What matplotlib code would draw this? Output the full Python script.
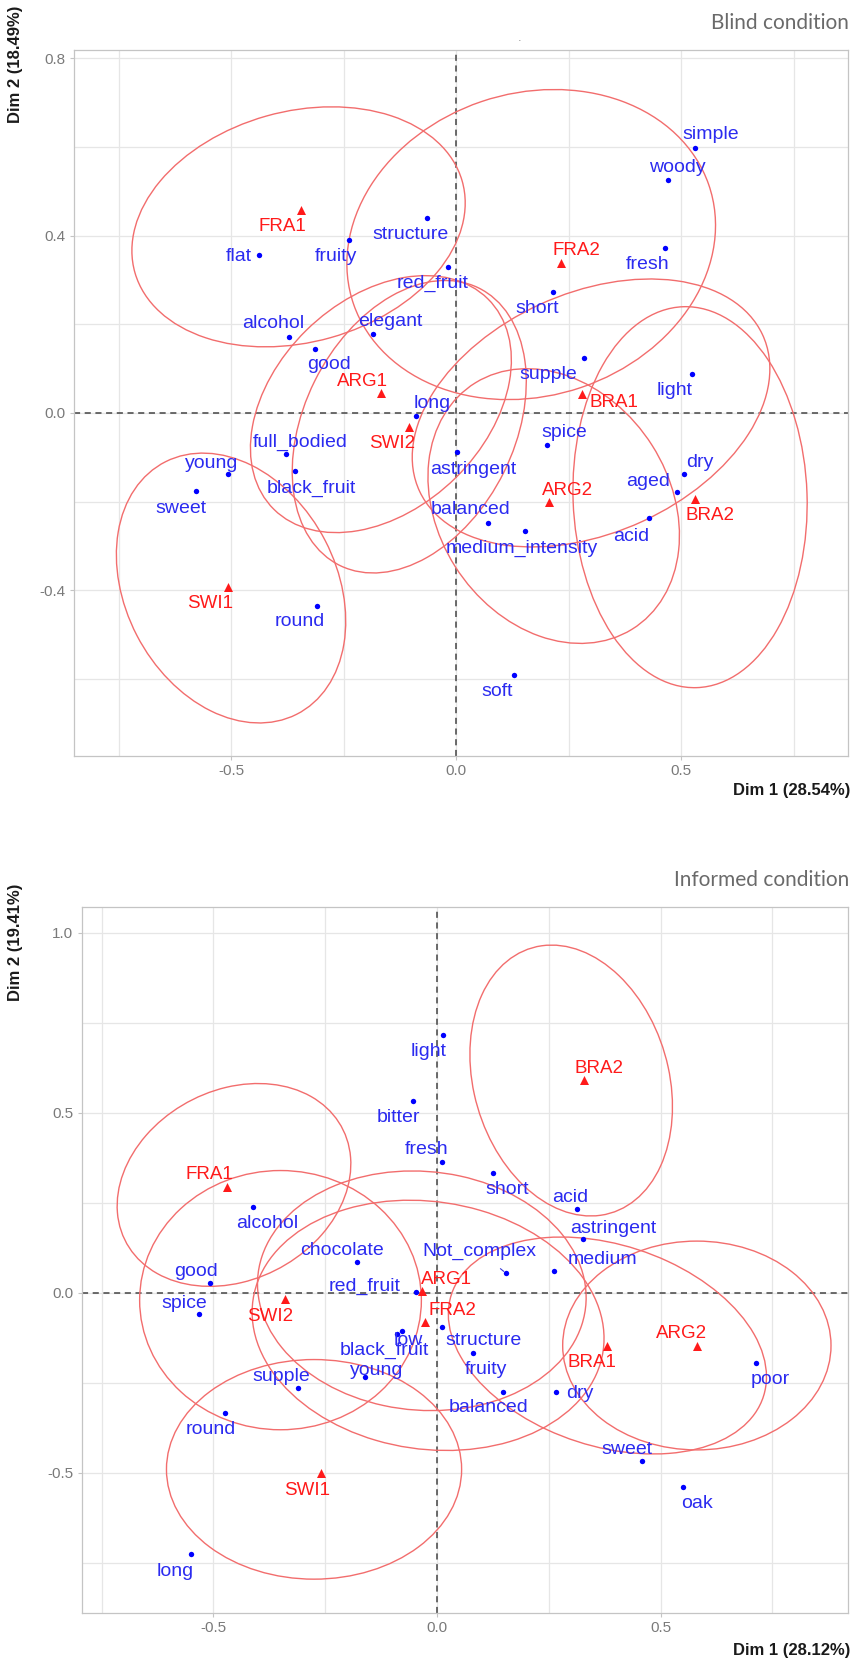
import matplotlib
matplotlib.use('Agg')
import matplotlib.pyplot as plt
from matplotlib.patches import Ellipse
from matplotlib.ticker import FixedLocator

# ---- Blind condition ----
blind_attr = ['simple', 'woody', 'fresh', 'short', 'supple', 'light', 'structure', 'red_fruit',
              'flat', 'fruity', 'alcohol', 'good', 'elegant', 'long', 'young', 'sweet',
              'full_bodied', 'black_fruit', 'round', 'spice', 'astringent', 'balanced',
              'medium_intensity', 'dry', 'aged', 'acid', 'soft']
blind_attr_x = [0.531, 0.470, 0.465, 0.215, 0.284, 0.524, -0.064, -0.018,
                -0.438, -0.238, -0.371, -0.313, -0.184, -0.088, -0.507, -0.578,
                -0.378, -0.358, -0.310, 0.203, 0.002, 0.072,
                0.153, 0.507, 0.492, 0.429, 0.129]
blind_attr_y = [0.598, 0.526, 0.372, 0.273, 0.124, 0.088, 0.440, 0.330,
                0.357, 0.391, 0.172, 0.145, 0.178, -0.006, -0.138, -0.176,
                -0.093, -0.130, -0.435, -0.072, -0.088, -0.248,
                -0.266, -0.138, -0.178, -0.238, -0.591]
blind_prod = ['FRA1', 'FRA2', 'ARG1', 'ARG2', 'BRA1', 'BRA2', 'SWI1', 'SWI2']
blind_prod_x = [-0.344, 0.233, -0.167, 0.207, 0.279, 0.530, -0.507, -0.104]
blind_prod_y = [0.458, 0.338, 0.045, -0.202, 0.043, -0.193, -0.392, -0.031]
# confidence ellipses: centre, semi axes, angle (deg)
blind_ell_x = [-0.350, 0.167, -0.167, 0.217, 0.300, 0.520, -0.500, -0.104]
blind_ell_y = [0.420, 0.380, 0.020, -0.210, 0.000, -0.190, -0.395, -0.031]
blind_ell_a = [0.378, 0.417, 0.336, 0.328, 0.420, 0.430, 0.320, 0.349]
blind_ell_b = [0.260, 0.341, 0.235, 0.258, 0.270, 0.260, 0.235, 0.234]
blind_ell_ang = [16, 19, 45, 122, 25, 92, 117, 64]

# ---- Informed condition ----
inf_attr = ['light', 'bitter', 'fresh', 'alcohol', 'chocolate', 'good', 'red_fruit',
            'short', 'acid', 'astringent', 'Not_complex', 'medium', 'spice', 'low',
            'black_fruit', 'structure', 'young', 'supple', 'round', 'fruity', 'balanced',
            'dry', 'poor', 'sweet', 'oak', 'long']
inf_attr_x = [0.014, -0.053, 0.012, -0.412, -0.180, -0.508, -0.047,
              0.126, 0.312, 0.327, 0.154, 0.262, -0.532, -0.079,
              -0.090, 0.012, -0.161, -0.310, -0.473, 0.080, 0.147,
              0.266, 0.714, 0.459, 0.551, -0.550]
inf_attr_y = [0.717, 0.532, 0.363, 0.240, 0.085, 0.029, 0.002,
              0.334, 0.232, 0.149, 0.055, 0.062, -0.059, -0.106,
              -0.115, -0.094, -0.234, -0.265, -0.334, -0.168, -0.274,
              -0.274, -0.195, -0.467, -0.538, -0.726]
inf_prod = ['FRA1', 'FRA2', 'ARG1', 'ARG2', 'BRA1', 'BRA2', 'SWI1', 'SWI2']
inf_prod_x = [-0.470, -0.027, -0.034, 0.581, 0.381, 0.329, -0.260, -0.340]
inf_prod_y = [0.295, -0.082, 0.006, -0.146, -0.146, 0.592, -0.501, -0.018]
inf_ell_x = [-0.454, -0.020, -0.034, 0.581, 0.381, 0.300, -0.275, -0.350]
inf_ell_y = [0.300, -0.090, 0.006, -0.146, -0.146, 0.590, -0.490, -0.020]
inf_ell_a = [0.300, 0.400, 0.370, 0.300, 0.380, 0.380, 0.330, 0.360]
inf_ell_b = [0.240, 0.340, 0.330, 0.290, 0.270, 0.220, 0.305, 0.315]
inf_ell_ang = [55, -20, -15, 0, -30, 100, 0, 90]

# label nudges in pixels (text centre relative to point)
blind_attr_nudge = [(16, 13), (10, 12), (-18, -16), (-16, -17), (-36, -16), (-17, -17),
                    (-17, -17), (-15, -17), (-20, -2), (-13, -17), (-16, 13), (14, -16),
                    (17, 13), (16, 12), (-16, 11), (-15, -18), (14, 12), (16, -18),
                    (-17, -16), (17, 12), (16, -18), (-18, 13), (-3, -18), (16, 12),
                    (-29, 10), (-18, -18), (-17, -17)]
blind_prod_nudge = [(-19, -17), (16, 13), (-18, 12), (18, 12), (32, -9), (15, -17),
                    (-18, -17), (-17, -17)]
inf_attr_nudge = [(-15, -17), (-15, -16), (-16, 13), (14, -17), (-15, 12), (-14, 11),
                  (-51, 6), (14, -17), (-6, 12), (30, 11), (-27, 22), (48, 11),
                  (-15, 11), (7, -9), (-12, -16), (41, -14), (12, 7), (-17, 12),
                  (-15, -16), (13, -16), (-14, -16), (24, -2), (14, -16), (-15, 12),
                  (14, -17), (-16, -17)]
inf_prod_nudge = [(-17, 12), (27, 12), (25, 11), (-15, 12), (-15, -17), (15, 11),
                  (-14, -17), (-15, -17)]

W, H = 852, 1663
fig = plt.figure(figsize=(W / 100, H / 100), dpi=100)

LABEL_FONT = ['Liberation Sans', 'DejaVu Sans']
TICK_FONT = ['Liberation Sans Narrow', 'Liberation Sans', 'DejaVu Sans']
BLUE = '#0000ff'
BLUE_TXT = '#2b2bf0'
RED = '#ff1a1a'
ELL = '#f26d6d'


def add_axes(left, top, right, bottom):
    return fig.add_axes([left / W, 1 - bottom / H, (right - left) / W, (bottom - top) / H])


def panel(ax, attr, ax_x, ax_y, a_nudge, prod, px, py, p_nudge,
          ex, ey, ea, eb, eang, xlim, ylim, ymaj, ymin):
    ax.set_xlim(*xlim)
    ax.set_ylim(*ylim)
    ax.xaxis.set_major_locator(FixedLocator([-0.5, 0.0, 0.5]))
    ax.xaxis.set_minor_locator(FixedLocator([-0.75, -0.25, 0.25, 0.75]))
    ax.yaxis.set_major_locator(FixedLocator(ymaj))
    ax.yaxis.set_minor_locator(FixedLocator(ymin))
    ax.grid(which='both', color='#e6e6e6', lw=0.9)
    ax.set_axisbelow(True)
    for s in ax.spines.values():
        s.set_color('#c4c4c4')
        s.set_linewidth(0.9)
    ax.tick_params(which='major', length=3, color='#c4c4c4', labelcolor='#7a7a7a',
                   labelsize=11, pad=3)
    ax.tick_params(which='minor', length=0)
    ax.xaxis.set_major_formatter(plt.FuncFormatter(lambda v, p: f'{v:.1f}'))
    ax.yaxis.set_major_formatter(plt.FuncFormatter(lambda v, p: f'{v:.1f}'))
    for lab in ax.get_xticklabels() + ax.get_yticklabels():
        lab.set_family(TICK_FONT)

    ax.axhline(0, color='#444444', lw=1.1, ls=(0, (4, 3)), zorder=1)
    ax.axvline(0, color='#444444', lw=1.1, ls=(0, (4, 3)), zorder=1)

    for cx, cy, a, b, ang in zip(ex, ey, ea, eb, eang):
        ax.add_patch(Ellipse((cx, cy), 2 * a, 2 * b, angle=ang, fill=False,
                             edgecolor=ELL, lw=1.0, zorder=2))

    ax.scatter(ax_x, ax_y, s=15, color=BLUE, zorder=4, linewidths=0)
    ax.scatter(px, py, s=42, marker='^', color=RED, zorder=4, linewidths=0)

    for name, x, y, (dx, dy) in zip(attr, ax_x, ax_y, a_nudge):
        props = None
        if name == 'Not_complex':
            props = dict(arrowstyle='-', color='#3b3bd8', lw=0.8, shrinkA=7, shrinkB=2)
        ax.annotate(name, (x, y), xytext=(dx, dy), textcoords='offset pixels',
                    ha='center', va='center', color=BLUE_TXT, fontsize=14,
                    family=LABEL_FONT, zorder=5, arrowprops=props)
    for name, x, y, (dx, dy) in zip(prod, px, py, p_nudge):
        ax.annotate(name, (x, y), xytext=(dx, dy), textcoords='offset pixels',
                    ha='center', va='center', color=RED, fontsize=13.5,
                    family=LABEL_FONT, zorder=5)


ax1 = add_axes(74, 50, 848, 756)
panel(ax1, blind_attr, blind_attr_x, blind_attr_y, blind_attr_nudge,
      blind_prod, blind_prod_x, blind_prod_y, blind_prod_nudge,
      blind_ell_x, blind_ell_y, blind_ell_a, blind_ell_b, blind_ell_ang,
      (-0.849, 0.871), (-0.774, 0.819), [-0.4, 0.0, 0.4, 0.8], [-0.6, -0.2, 0.2, 0.6])

ax2 = add_axes(81.5, 907, 848, 1613)
panel(ax2, inf_attr, inf_attr_x, inf_attr_y, inf_attr_nudge,
      inf_prod, inf_prod_x, inf_prod_y, inf_prod_nudge,
      inf_ell_x, inf_ell_y, inf_ell_a, inf_ell_b, inf_ell_ang,
      (-0.795, 0.919), (-0.889, 1.072), [-0.5, 0.0, 0.5, 1.0], [-0.75, -0.25, 0.25, 0.75])

# titles and axis labels
title_kw = dict(ha='right', va='center', fontsize=15, color='#6a6a6a',
                family=['Lato', 'DejaVu Sans'], fontweight='normal')
fig.text(849 / W, 1 - 23 / H, 'Blind condition', **title_kw)
fig.text(849 / W, 1 - 880 / H, 'Informed condition', **title_kw)
fig.text(520 / W, 1 - 38 / H, '.', ha='center', va='center', fontsize=8, color='#888888')

lab_kw = dict(fontsize=12, fontweight='bold', color='#1a1a1a', family=LABEL_FONT)
fig.text(850 / W, 1 - 790 / H, 'Dim 1 (28.54%)', ha='right', va='center', **lab_kw)
fig.text(850 / W, 1 - 1650 / H, 'Dim 1 (28.12%)', ha='right', va='center', **lab_kw)
fig.text(16 / W, 1 - 6 / H, 'Dim 2 (18.49%)', rotation=90, ha='center', va='top', **lab_kw)
fig.text(16 / W, 1 - 884 / H, 'Dim 2 (19.41%)', rotation=90, ha='center', va='top', **lab_kw)

fig.savefig('out.png', dpi=100)
